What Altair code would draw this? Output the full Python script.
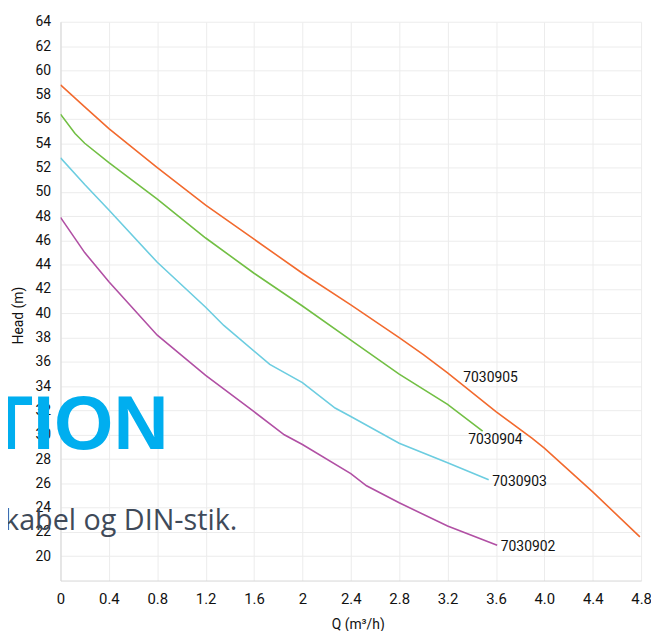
import altair as alt
import pandas as pd

# ---- data ----
q_905 = [0, 0.2, 0.4, 0.8, 1.2, 1.6, 2.0, 2.4, 2.8, 3.0, 3.2, 3.6, 3.9, 4.0, 4.4, 4.79]
h_905 = [58.8, 57.0, 55.2, 52.0, 48.9, 46.1, 43.3, 40.7, 38.0, 36.6, 35.1, 31.9, 29.7, 28.9, 25.3, 21.6]

q_904 = [0, 0.12, 0.2, 0.4, 0.8, 1.2, 1.6, 2.0, 2.4, 2.8, 3.2, 3.49]
h_904 = [56.4, 54.8, 54.0, 52.4, 49.4, 46.2, 43.3, 40.6, 37.8, 35.0, 32.5, 30.3]

q_903 = [0, 0.2, 0.4, 0.8, 1.2, 1.35, 1.73, 2.0, 2.27, 2.4, 2.8, 3.2, 3.54]
h_903 = [52.8, 50.6, 48.5, 44.2, 40.5, 39.0, 35.8, 34.3, 32.2, 31.5, 29.3, 27.7, 26.3]

q_902 = [0, 0.2, 0.4, 0.8, 1.2, 1.6, 1.85, 2.0, 2.4, 2.53, 2.8, 3.2, 3.61]
h_902 = [47.9, 45.0, 42.6, 38.2, 34.9, 31.9, 30.0, 29.2, 26.8, 25.8, 24.4, 22.5, 20.9]

series_names = ["7030905", "7030904", "7030903", "7030902"]
series_colors = ["#f26a2e", "#72bf44", "#6ccde0", "#b150a4"]

label_q = [3.33, 3.37, 3.57, 3.64]
label_h = [34.7, 29.6, 26.1, 20.8]

x_tick_values = [0, 0.4, 0.8, 1.2, 1.6, 2.0, 2.4, 2.8, 3.2, 3.6, 4.0, 4.4, 4.8]
x_tick_labels = ["0", "0.4", "0.8", "1.2", "1.6", "2", "2.4", "2.8", "3.2", "3.6", "4.0", "4.4", "4.8"]
y_tick_values = list(range(20, 65, 2))

# ---- build tables ----
rows = []
for name, qs, hs in zip(series_names, [q_905, q_904, q_903, q_902], [h_905, h_904, h_903, h_902]):
    for i, (q, h) in enumerate(zip(qs, hs)):
        rows.append({"series": name, "Q": q, "H": h, "order": i})
df = pd.DataFrame(rows)
labels = pd.DataFrame({"series": series_names, "Q": label_q, "H": label_h})

FONT = "Roboto, Liberation Sans, sans-serif"

label_expr = "[" + ",".join("'%s'" % s for s in x_tick_labels) + "][round(datum.value/0.4)]"

x_scale = alt.Scale(domain=[0, 4.8], nice=False, zero=False)
y_scale = alt.Scale(domain=[18, 64], nice=False, zero=False)

x_axis = alt.Axis(values=x_tick_values, labelExpr=label_expr, title="Q (m³/h)",
                  grid=True, ticks=False, labelPadding=11, titlePadding=11,
                  labelOverlap=False, labelFlush=False, labelFontSize=15, titleX=300)
y_axis = alt.Axis(values=y_tick_values, title="Head (m)", grid=True, ticks=False,
                  labelPadding=10, titlePadding=10, labelOverlap=False,
                  labelFlush=False, titleY=296)

lines = alt.Chart(df).mark_line(strokeWidth=1.6, clip=True).encode(
    x=alt.X("Q:Q", scale=x_scale, axis=x_axis),
    y=alt.Y("H:Q", scale=y_scale, axis=y_axis),
    color=alt.Color("series:N", scale=alt.Scale(domain=series_names, range=series_colors), legend=None),
    order="order:Q",
    detail="series:N",
)

text = alt.Chart(labels).mark_text(align="left", baseline="middle", fontSize=14, font=FONT, color="#111111").encode(
    x=alt.X("Q:Q", scale=x_scale, axis=x_axis),
    y=alt.Y("H:Q", scale=y_scale, axis=y_axis),
    text="series:N",
)

overlay1 = alt.Chart(pd.DataFrame({"t": ["TION"]})).mark_text(
    align="right", baseline="alphabetic", fontSize=77, fontWeight="bold",
    font="Liberation Sans, Arial, sans-serif", color="#00aeef"
).encode(x=alt.value(109), y=alt.value(431), text="t:N")

overlay2 = alt.Chart(pd.DataFrame({"t": ["kabel og DIN-stik."]})).mark_text(
    align="left", baseline="alphabetic", fontSize=29,
    font="Open Sans, Noto Sans, sans-serif", color="#3f4a59"
).encode(x=alt.value(-57), y=alt.value(513), text="t:N")

chart = alt.layer(lines, text, overlay1, overlay2).properties(
    width=586, height=564,
    autosize=alt.AutoSizeParams(type="none"),
    padding={"left": 53, "top": 11, "right": 10, "bottom": 48},
).configure_view(stroke=None).configure_axis(
    labelFont=FONT, titleFont=FONT, labelFontSize=14, titleFontSize=14,
    labelColor="#111111", titleColor="#111111", titleFontWeight="normal",
    gridColor="#ececec", domainColor="#d6d6d6", gridWidth=1,
)

chart.save("out.html", embed_options={"renderer": "svg", "actions": False})
